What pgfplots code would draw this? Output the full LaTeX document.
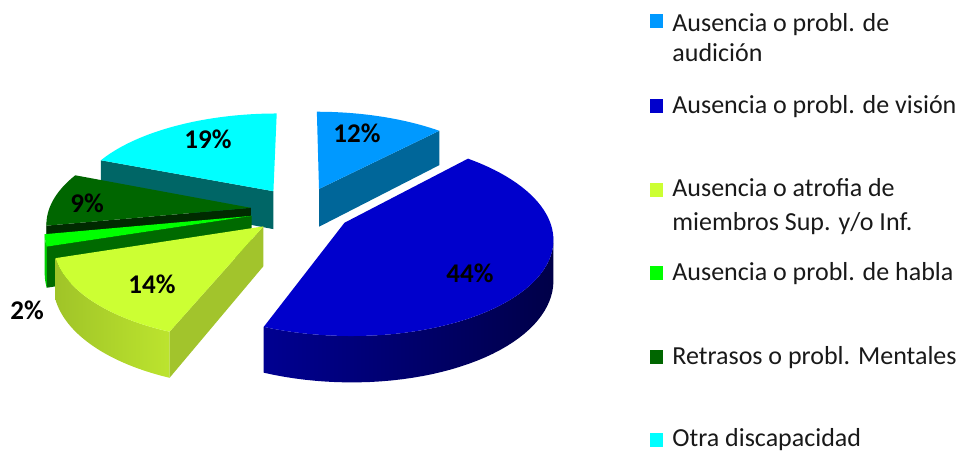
\documentclass[border=0pt]{standalone}
\usepackage{fontspec}
\setmainfont{Carlito}
\usepackage{pgfplots}
\pgfplotsset{compat=1.18}
\definecolor{aT}{HTML}{0099FF}\definecolor{aR}{HTML}{006699}
\definecolor{bT}{HTML}{0000CC}\definecolor{bS}{HTML}{00007A}
\definecolor{bSl}{RGB}{0,0,145}\definecolor{bSm}{RGB}{0,0,88}\definecolor{bSr}{RGB}{0,0,72}
\definecolor{cT}{HTML}{CCFF33}\definecolor{cS}{HTML}{A2C42A}\definecolor{cR}{HTML}{A2C42C}
\definecolor{cSl}{RGB}{160,196,40}\definecolor{cSr}{RGB}{188,228,46}
\definecolor{dT}{HTML}{00FF00}\definecolor{dS}{HTML}{00D000}\definecolor{dR}{HTML}{006A00}
\definecolor{eT}{HTML}{006600}\definecolor{eS}{HTML}{004D00}\definecolor{eR}{HTML}{002A00}
\definecolor{fT}{HTML}{00FFFF}\definecolor{fR}{HTML}{006666}
% data (percent)
\def\pA{12}\def\pB{44}\def\pC{14}\def\pD{2}\def\pE{9}\def\pF{19}
\pgfmathsetmacro\aHi{90}
\pgfmathsetmacro\aLo{\aHi-3.6*\pA}
\pgfmathsetmacro\bHi{\aLo}\pgfmathsetmacro\bLo{\bHi-3.6*\pB}
\pgfmathsetmacro\cHi{\bLo}\pgfmathsetmacro\cLo{\cHi-3.6*\pC}
\pgfmathsetmacro\dHi{\cLo}\pgfmathsetmacro\dLo{\dHi-3.6*\pD}
\pgfmathsetmacro\eHi{\dLo}\pgfmathsetmacro\eLo{\eHi-3.6*\pE}
\pgfmathsetmacro\fHi{\eLo}\pgfmathsetmacro\fLo{\fHi-3.6*\pF}
\pgfmathsetmacro\aM{(\aHi+\aLo)/2}\pgfmathsetmacro\bM{(\bHi+\bLo)/2}
\pgfmathsetmacro\cM{(\cHi+\cLo)/2}\pgfmathsetmacro\dM{(\dHi+\dLo)/2}
\pgfmathsetmacro\eM{(\eHi+\eLo)/2}\pgfmathsetmacro\fM{(\fHi+\fLo)/2}
\tikzset{declare function={
  PX(\qu,\qv)=301+202*\qu/(1+0.14*\qv);
  PY(\qu,\qv,\qz)=210-(93.5*\qv+39*\qz)/(1+0.14*\qv);
  UR(\qm,\qr,\qt)=0.25*cos(\qm)+\qr*cos(\qt);
  VR(\qm,\qr,\qt)=0.25*sin(\qm)+\qr*sin(\qt);
  TA(\qt,\qa,\qb)=\qa+(\qb-\qa)*\qt/60;
  SA(\qt,\qa,\qb)=ifthenelse(\qt<40.5,\qa+(\qb-\qa)*\qt/40,\qb-(\qb-\qa)*(\qt-41)/40);
  SZ(\qt)=ifthenelse(\qt<40.5,0,-1);
  RR(\qt)=ifthenelse(\qt>0.5,ifthenelse(\qt<2.5,1,0),0);
  RZ(\qt)=ifthenelse(\qt>1.5,-1,0);
}}
% top face: #1 low angle, #2 high angle, #3 mid, #4 style
\newcommand{\topface}[4]{%
\addplot[#4,draw=none,samples at={-1,0,...,60},variable=\t]
 ({PX(UR(#3,ifthenelse(\t<0,0,1),TA(\t,#1,#2)),VR(#3,ifthenelse(\t<0,0,1),TA(\t,#1,#2)))},
  {PY(UR(#3,ifthenelse(\t<0,0,1),TA(\t,#1,#2)),VR(#3,ifthenelse(\t<0,0,1),TA(\t,#1,#2)),0)});}
% outer side: #1 from, #2 to, #3 mid, #4 style
\newcommand{\sideface}[4]{%
\addplot[#4,draw=none,samples at={0,...,81},variable=\t]
 ({PX(UR(#3,1,SA(\t,#1,#2)),VR(#3,1,SA(\t,#1,#2)))},
  {PY(UR(#3,1,SA(\t,#1,#2)),VR(#3,1,SA(\t,#1,#2)),SZ(\t))});}
% radial face: #1 angle, #2 mid, #3 style
\newcommand{\radface}[3]{%
\addplot[#3,draw=none,samples at={0,1,2,3},variable=\t]
 ({PX(UR(#2,RR(\t),#1),VR(#2,RR(\t),#1))},
  {PY(UR(#2,RR(\t),#1),VR(#2,RR(\t),#1),RZ(\t))});}
\newcommand{\legkey}[2]{%
\addplot[fill=#2,draw=none] coordinates {(650,#1-7) (663,#1-7) (663,#1+7) (650,#1+7)};}
\begin{document}
\begin{tikzpicture}
\begin{axis}[width=481.5pt,height=226pt,scale only axis,
  xmin=0,xmax=963,ymin=0,ymax=452,y dir=reverse,
  hide axis,clip=false]
\path (rel axis cs:0,0) rectangle (rel axis cs:1,1);
% 12%
\radface{\aLo}{\aM}{fill=aR}
\topface{\aLo}{\aHi}{\aM}{fill=aT}
% 19%
\radface{\fHi}{\fM}{fill=fR}
\topface{\fLo}{\fHi}{\fM}{fill=fT}
% 9%
\sideface{-172}{\eHi}{\eM}{fill=eS}
\radface{\eHi}{\eM}{fill=eR}
\topface{\eLo}{\eHi}{\eM}{fill=eT}
% 2%
\sideface{\dLo}{\dHi}{\dM}{fill=dS}
\radface{\dHi}{\dM}{fill=dR}
\topface{\dLo}{\dHi}{\dM}{fill=dT}
% 44%
\sideface{\bLo}{-8}{\bM}{left color=bSl,middle color=bSm,right color=bSr}
\topface{\bLo}{\bHi}{\bM}{fill=bT}
% 14%
\sideface{\cLo}{\cHi}{\cM}{left color=cSl,right color=cSr}
\radface{\cHi}{\cM}{fill=cR}
\topface{\cLo}{\cHi}{\cM}{fill=cT}
% labels
\begin{scope}[every node/.style={font=\bfseries\fontsize{13.5}{15}\selectfont,text=black}]
\node at (axis cs:357,133) {12\%};
\node at (axis cs:470,273) {44\%};
\node at (axis cs:152,284) {14\%};
\node at (axis cs:27,310) {2\%};
\node at (axis cs:87,203) {9\%};
\node at (axis cs:208,139) {19\%};
\end{scope}
% legend
\legkey{21}{aT}\legkey{106}{bT}\legkey{189.5}{cT}\legkey{273}{dT}\legkey{356.5}{eT}\legkey{440}{fT}
\begin{scope}[every node/.style={font=\fontsize{13}{15}\selectfont,anchor=base west,inner sep=0pt,text=black!90}]
\node at (axis cs:672,31) {Ausencia o probl. de};
\node at (axis cs:672,61) {audición};
\node at (axis cs:672,113.3) {Ausencia o probl. de visión};
\node at (axis cs:672,196.7) {Ausencia o atrofia de};
\node at (axis cs:672,230) {miembros Sup. y/o Inf.};
\node at (axis cs:672,280) {Ausencia o probl. de habla};
\node at (axis cs:672,364) {Retrasos o probl. Mentales};
\node at (axis cs:672,446.7) {Otra discapacidad};
\end{scope}
\end{axis}
\end{tikzpicture}
\end{document}
